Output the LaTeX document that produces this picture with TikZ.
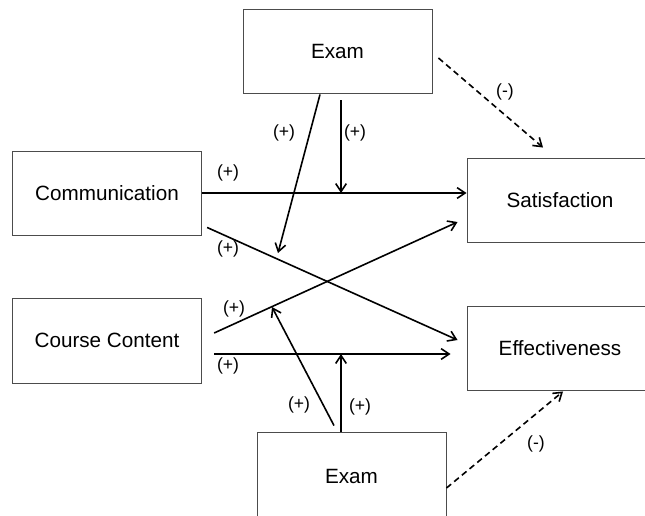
\documentclass[tikz,border=0pt]{standalone}
\usepackage{fontspec}
\setmainfont{Liberation Sans}
\usetikzlibrary{arrows.meta,calc}

\begin{document}
\begin{tikzpicture}[x=0.75pt,y=-0.75pt,
    factor/.style={draw=black!70, line width=0.7pt, inner sep=0pt,
      minimum width=142pt, minimum height=63pt, font=\fontsize{15.5}{18}\selectfont},
    link/.style={-{Straight Barb[length=6pt,width=8pt]}, line width=1.2pt},
    neglink/.style={link, dash pattern=on 4.5pt off 3pt},
    sign/.style={font=\fontsize{13.2}{16}\selectfont}]
    \clip (0,0) rectangle (645,515);
    \useasboundingbox (0,0) rectangle (645,515);

    % Factors and outcomes
    \node[factor, minimum width=141.75pt] (examtop) at (337.5,51) {Exam};
    \node[factor] (comm) at (107,193) {Communication};
    \node[factor, minimum height=63.75pt] (course) at (107,340.5) {Course Content};
    \node[factor, minimum width=139.5pt] (satis) at (560,200) {Satisfaction};
    \node[factor, minimum width=139.5pt] (effect) at (560,348) {Effectiveness};
    \node[factor, minimum width=141.75pt, minimum height=66pt] (exambot) at (351.5,476) {Exam};

    % Direct paths
    \coordinate (c1) at ($(comm.east)+(0,0)$);
    \coordinate (c2) at ($(comm.south east)+(5,-8)$);
    \coordinate (k1) at ($(course.east)+(12,-7.5)$);
    \coordinate (k2) at ($(course.east)+(12,13.5)$);
    \draw[link] (c1) -- (c1 -| satis.west);
    \draw[link] (c2) -- ($(effect.west)+(-9,-8)$);
    \draw[link] (k1) -- ($(satis.west)+(-9,22)$);
    \draw[link] (k2) -- ($(k2 -| effect.west)+(-16,0)$);

    % Moderation by the exam
    \coordinate (m1) at (341,193);
    \coordinate (m2) at (278,253);
    \coordinate (m3) at (341,354);
    \coordinate (m4) at (272,307);
    \draw[link] ($(examtop.south)+(3.5,7)$) -- (m1);
    \draw[link] ($(examtop.south)+(-17.5,1)$) -- (m2);
    \draw[link] ($(exambot.north)+(-10.5,0)$) -- (m3);
    \draw[link] ($(exambot.north)+(-17.5,-6)$) -- (m4);

    % Negative paths
    \draw[neglink] ($(examtop.east)+(6,7)$) -- ($(satis.north)+(-17,-10)$);
    \draw[neglink] ($(exambot.east)+(0,12)$) -- ($(effect.south)+(3,1)$);

    % Signs
    \foreach \x/\y/\s in {228/173/+, 228/249/+, 234/309/+, 228/366/+,
                          284/133/+, 355/133/+, 299/405/+, 360/407/+,
                          505/92/-, 536/444/-}
        \node[sign] at (\x,\y) {(\s)};
\end{tikzpicture}
\end{document}
